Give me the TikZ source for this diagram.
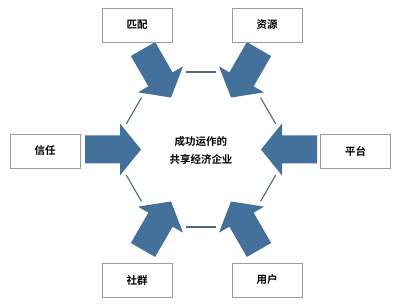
\documentclass[tikz,border=0pt]{standalone}
\usepackage{fontspec}
\usetikzlibrary{calc}
\newfontfamily\cjk{Noto Sans CJK SC}[BoldFont={Noto Sans CJK SC Bold}]
\definecolor{arrowblue}{HTML}{44719B}
\definecolor{hexline}{HTML}{4C6A84}
\definecolor{boxline}{HTML}{9C9C9C}
\tikzset{
  labelbox/.style={draw=boxline, line width=0.9pt, fill=white, minimum width=70pt, minimum height=34pt, inner sep=0pt, font=\cjk\bfseries\fontsize{10.5pt}{12pt}\selectfont},
  centertext/.style={align=center, inner sep=0pt, font=\cjk\bfseries\fontsize{10.5pt}{18pt}\selectfont},
  blockarrow/.style={fill=arrowblue, draw=none},
  hexedge/.style={draw=hexline, line width=1.1pt}
}
\begin{document}
\begin{tikzpicture}[x=1pt,y=-1pt]
\useasboundingbox (0,0) rectangle (400,305);
\fill[white] (0,0) rectangle (400,305);
\coordinate (c) at (201,149.5);
% hexagon vertices
\coordinate (v0) at (290.5,149.5);
\coordinate (v1) at (245.75,72);
\coordinate (v2) at (156.25,72);
\coordinate (v3) at (111.5,149.5);
\coordinate (v4) at (156.25,227);
\coordinate (v5) at (245.75,227);
% visible hexagon segments
\foreach \i/\j in {0/1,1/2,2/3,3/4,4/5,5/0}{
  \draw[hexedge] ($(v\i)!0.33!(v\j)$) -- ($(v\i)!0.67!(v\j)$);
}
% block arrows pointing to centre
\foreach \a in {0,60,120,180,240,300}{
  \begin{scope}[shift={(c)}, rotate=\a]
    \fill[blockarrow] (116,-14) -- (81,-14) -- (81,-26) -- (60,0) -- (81,26) -- (81,14) -- (116,14) -- cycle;
  \end{scope}
}
% boxes
\node[labelbox] (match) at (137,25) {匹配};
\node[labelbox] (resource) at (267,25) {资源};
\node[labelbox] (trust) at (45,151) {信任};
\node[labelbox] (platform) at (355.5,151) {平台};
\node[labelbox] (community) at (137,280) {社群};
\node[labelbox] (user) at (267,280) {用户};
\node[centertext] (center) at (201,150) {成功运作的\\共享经济企业};
\end{tikzpicture}
\end{document}
